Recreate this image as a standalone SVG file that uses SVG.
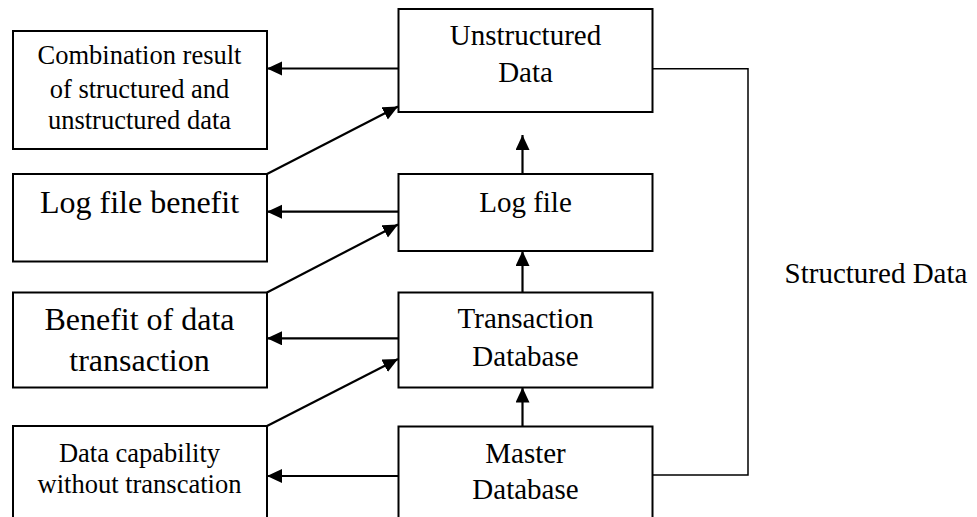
<svg xmlns="http://www.w3.org/2000/svg" width="977" height="517" viewBox="0 0 977 517">
<defs>
<style>
.box{fill:#fff;stroke:#000;stroke-width:2}
.t{fill:#000;text-anchor:middle}
.s{font-size:26.5px}
.m{font-size:29px}
.l{font-size:32px}
.c{fill:none;stroke:#000;stroke-width:2.2}
.cl{fill:none;stroke:#000;stroke-width:1.5}
</style>
<marker id="ah" markerUnits="userSpaceOnUse" markerWidth="16" markerHeight="15" refX="15" refY="7" orient="auto">
<path d="M0,0 L15,7 L0,14 z" fill="#000"/>
</marker>
</defs>
<rect width="977" height="517" fill="#fff"/>
<g font-family="'Liberation Serif', 'Times New Roman', Times, serif">
<g id="n-combination">
<rect class="box" x="13" y="31" width="254" height="118"/>
<text class="t s" x="139.5" y="64.3">Combination result</text>
<text class="t s" x="139.5" y="97.7">of structured and</text>
<text class="t s" x="139.5" y="129.3">unstructured data</text>
</g>
<g id="n-unstructured">
<rect class="box" x="398.5" y="9" width="254" height="103"/>
<text class="t m" x="525.5" y="45">Unstructured</text>
<text class="t m" x="525.5" y="81.5">Data</text>
</g>
<g id="n-logbenefit">
<rect class="box" x="13" y="174" width="254" height="87.5"/>
<text class="t l" x="139.5" y="213.3">Log file benefit</text>
</g>
<g id="n-logfile">
<rect class="box" x="398.5" y="174" width="254" height="77"/>
<text class="t m" x="525.5" y="211.5">Log file</text>
</g>
<g id="n-benefit">
<rect class="box" x="13" y="292.5" width="254" height="95"/>
<text class="t l" x="139.5" y="330">Benefit of data</text>
<text class="t l" x="139.5" y="370.7">transaction</text>
</g>
<g id="n-transaction">
<rect class="box" x="398.5" y="292.5" width="254" height="95"/>
<text class="t m" x="525.5" y="328.3">Transaction</text>
<text class="t m" x="525.5" y="366">Database</text>
</g>
<g id="n-capability">
<rect class="box" x="13" y="426" width="254" height="110"/>
<text class="t s" x="139.5" y="461.7">Data capability</text>
<text class="t s" x="139.5" y="493.3">without transcation</text>
</g>
<g id="n-master">
<rect class="box" x="398.5" y="426.5" width="254" height="110"/>
<text class="t m" x="525.5" y="463.3">Master</text>
<text class="t m" x="525.5" y="499.3">Database</text>
</g>
<g id="connectors">
<line class="c" x1="398.5" y1="68.5" x2="267" y2="68.5" marker-end="url(#ah)"/>
<line class="c" x1="398.5" y1="211.7" x2="267" y2="211.7" marker-end="url(#ah)"/>
<line class="c" x1="398.5" y1="338.3" x2="267" y2="338.3" marker-end="url(#ah)"/>
<line class="c" x1="398.5" y1="476" x2="267" y2="476" marker-end="url(#ah)"/>
<line class="c" x1="267" y1="174" x2="398" y2="106.5" marker-end="url(#ah)"/>
<line class="c" x1="267" y1="292.5" x2="398" y2="224.5" marker-end="url(#ah)"/>
<line class="c" x1="267" y1="426" x2="398" y2="359" marker-end="url(#ah)"/>
<line class="c" x1="522.5" y1="174" x2="522.5" y2="135" marker-end="url(#ah)"/>
<line class="c" x1="522.5" y1="292.5" x2="522.5" y2="251" marker-end="url(#ah)"/>
<line class="c" x1="522.5" y1="426.5" x2="522.5" y2="387.5" marker-end="url(#ah)"/>
<polyline class="cl" points="652.5,68.7 748,68.7 748,475 652.5,475"/>
<text class="t m" x="876" y="283">Structured Data</text>
</g>
</g>
</svg>
